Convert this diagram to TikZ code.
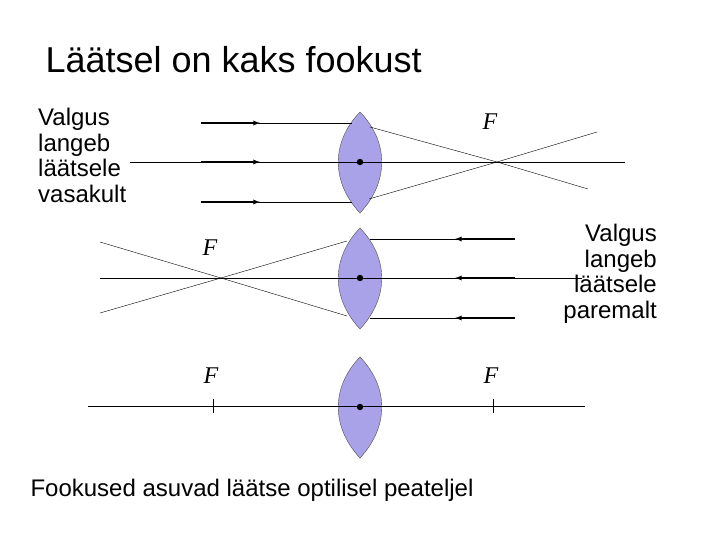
\documentclass[tikz,border=0pt]{standalone}
\usepackage{fontspec}
\setmainfont{Liberation Sans}
\newfontfamily\serifF{Liberation Serif}
\usetikzlibrary{arrows}
\definecolor{lensblue}{RGB}{170,162,232}

\begin{document}
\begin{tikzpicture}[x=1pt,y=-1pt,>=latex, thin,
    lens/.style={fill=lensblue, draw=black!70, thin},
    ray/.style={thin},
    beam/.style={->, line width=1.3pt, shorten >=0pt},
    flabel/.style={font=\serifF\itshape\fontsize{24}{24}\selectfont},
    side/.style={font=\fontsize{24}{25.5}\selectfont, align=left, inner sep=0pt}]
  \useasboundingbox (0,0) rectangle (720,540);

    % lenses
    \foreach \n/\y in {1/162, 2/278, 3/407} {
      \coordinate (c\n) at (360,\y);
      \draw[lens] (360,\y-50) .. controls (331,\y-20) and (331,\y+20) .. (360,\y+51)
                             .. controls (389,\y+20) and (389,\y-20) .. (360,\y-50);
    }

    % first lens: light from the left
    \coordinate (f1) at (497,162);
    \draw (130,162) -- (625,162);
    \draw[ray] (258,123) -- (352,123);
    \draw[ray] (258,202) -- (352,202);
    \draw[ray] (370,127) -- (f1) -- (588,189);
    \draw[ray] (369,199) -- (f1) -- (597,132);
    \foreach \y in {123,162,202} \draw[beam] (201,\y) -- (260,\y);
    \node[flabel] (F1) at (490,122) {F};

    % second lens: light from the right
    \coordinate (f2) at (221,278);
    \draw (100,278) -- (582,278);
    \draw[ray] (370,239) -- (515,239);
    \draw[ray] (370,318) -- (515,318);
    \draw[ray] (347,241) -- (f2) -- (100,313);
    \draw[ray] (347,316) -- (f2) -- (100,242);
    \foreach \y in {239,278,318} \draw[beam] (515,\y) -- (455,\y);
    \node[flabel] (F2) at (210,248) {F};

    % third lens: the two foci
    \draw (88,406) -- (585,406);
    \draw (213,399) -- (213,413);
    \draw (493,399) -- (493,413);
    \node[flabel] (F3) at (211,376) {F};
    \node[flabel] (F4) at (491,376) {F};

    \foreach \n in {1,2,3} \fill (c\n) circle (3.2);

    % texts
    \node[anchor=west, font=\fontsize{36}{36}\selectfont] (title) at (42,60) {Läätsel on kaks fookust};
    \node[side, anchor=north west] (left) at (38,108) {Valgus\\langeb\\läätsele\\vasakult};
    \node[side, anchor=north east, align=right] (right) at (657,224) {Valgus\\langeb\\läätsele\\paremalt};
    \node[anchor=west, font=\fontsize{24}{24}\selectfont] (bottom) at (27,490) {Fookused asuvad läätse optilisel peateljel};
\end{tikzpicture}
\end{document}
